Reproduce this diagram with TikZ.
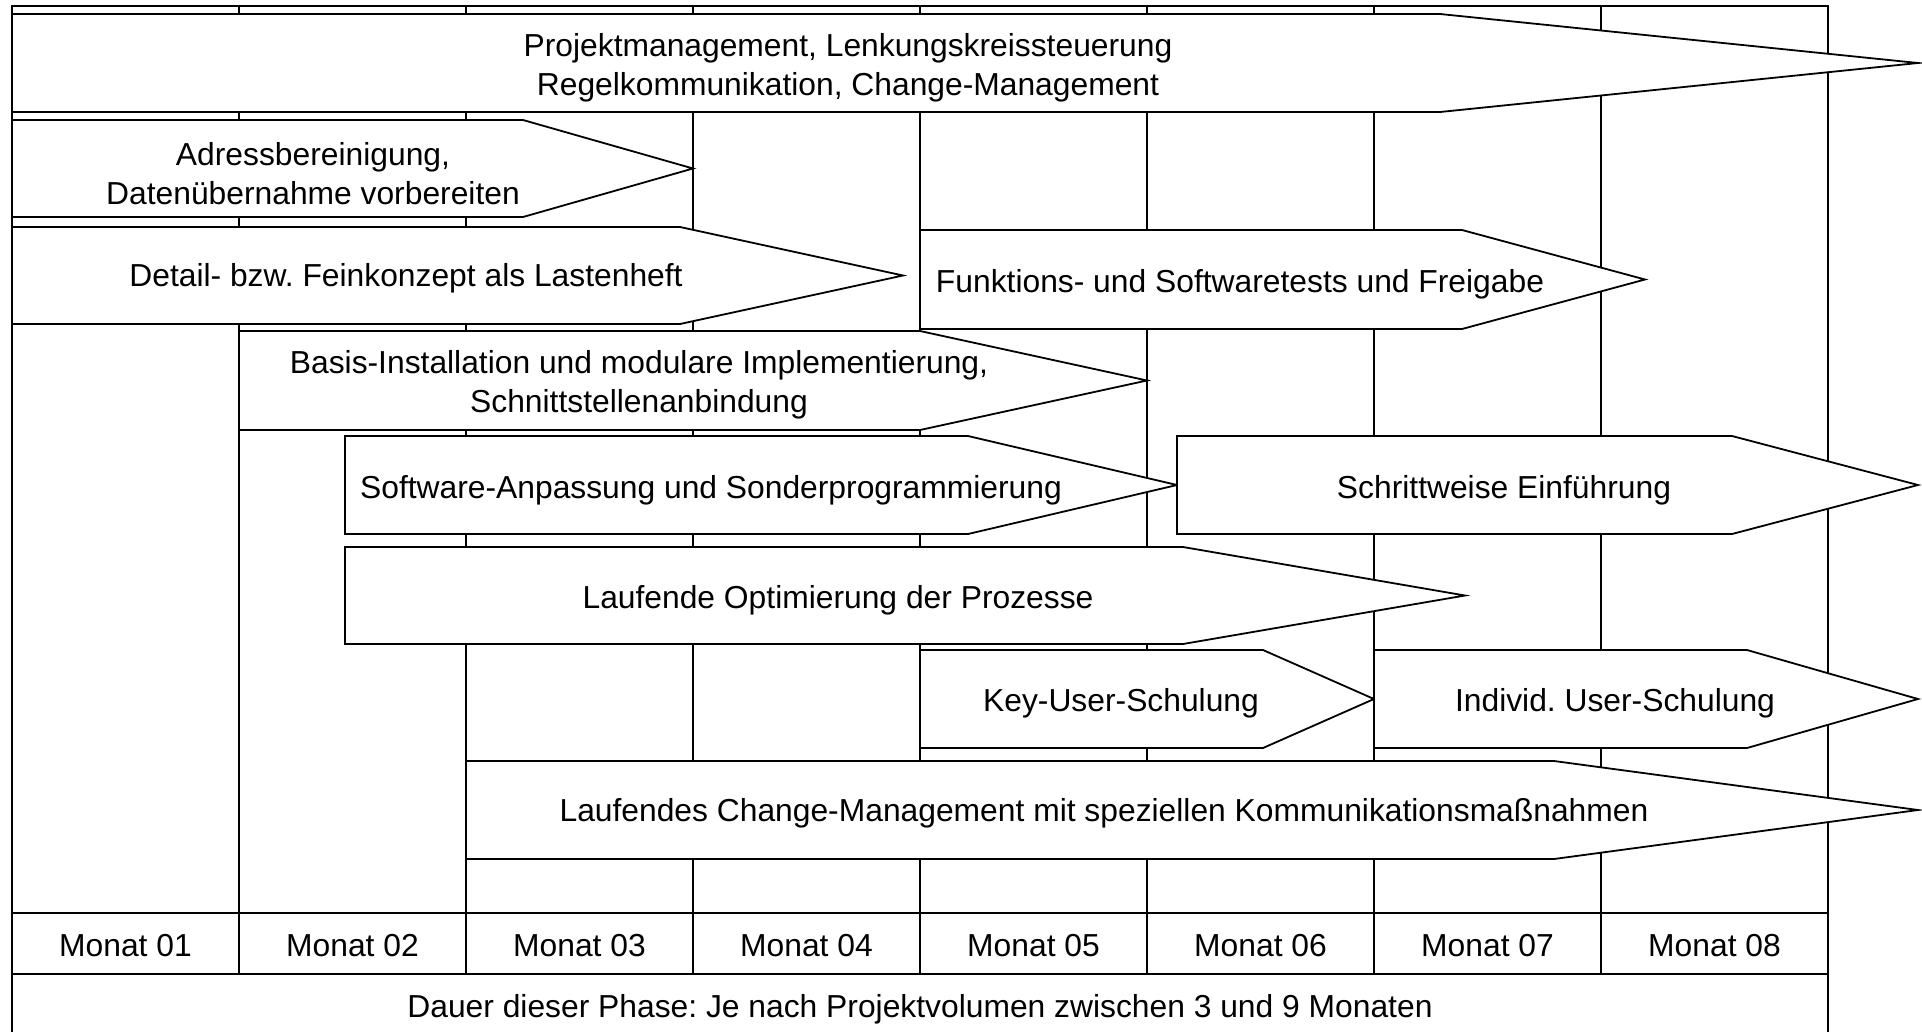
\documentclass[tikz,border=0pt]{standalone}
\usepackage{fontspec}
\setmainfont{Liberation Sans}
\frenchspacing
\newcommand{\garrow}[5]{\draw[bar] (#1,#2) -- (#4,#2) -- (#5,{(#2+#3)/2}) -- (#4,#3) -- (#1,#3) -- cycle;}
\begin{document}
\begin{tikzpicture}[x=1pt,y=-1pt,
  frame/.style={draw=black, line width=1.8pt},
  bar/.style={draw=black, fill=white, line width=1.8pt, line join=miter},
  lbl/.style={font=\fontsize{31.8}{39}\selectfont, inner sep=0pt, text height=22.8pt, text depth=0pt, anchor=center},
  lbltwo/.style={font=\fontsize{31.8}{39}\selectfont, inner sep=0pt, align=center, anchor=center}]
\useasboundingbox (0,0) rectangle (1922,1031);
\fill[white] (0,0) rectangle (1922,1031);
% frame and month grid
\draw[frame] (12,1050) -- (12,6) -- (1828,6) -- (1828,1050);
\foreach \i in {1,...,7} \draw[frame] ({12+227*\i},6) -- ({12+227*\i},974);
\draw[frame] (12,913) -- (1828,913);
\draw[frame] (12,974) -- (1828,974);
% bars
\garrow{12}{14}{112}{1440}{1918}
\garrow{12}{120}{217}{523}{693}
\garrow{12}{227}{324}{680}{903}
\garrow{920}{230}{329}{1462}{1645}
\garrow{239}{331}{430}{920}{1147}
\garrow{345}{436}{534}{968}{1177}
\garrow{1177}{436}{534}{1732}{1918}
\garrow{345}{547}{644}{1183}{1465}
\garrow{920}{650}{748}{1263}{1374}
\garrow{1374}{650}{748}{1747}{1918}
\garrow{466}{761}{859}{1554}{1918}
% labels
\node[lbltwo] (t1) at (848,68) {Projektmanagement, Lenkungskreissteuerung\\Regelkommunikation, Change-Management};
\node[lbltwo] (t2) at (313,174) {Adressbereinigung,\\Datenübernahme vorbereiten};
\node[lbl] (t3) at (406,275) {Detail- bzw. Feinkonzept als Lastenheft};
\node[lbl] (t4) at (1240,281) {Funktions- und Softwaretests und Freigabe};
\node[lbltwo] (t5) at (639,385) {Basis-Installation und modulare Implementierung,\\Schnittstellenanbindung};
\node[lbl] (t6) at (711,487) {Software-Anpassung und Sonderprogrammierung};
\node[lbl] (t7) at (1504,487) {Schrittweise Einführung};
\node[lbl] (t8) at (838,597) {Laufende Optimierung der Prozesse};
\node[lbl] (t9) at (1121,700) {Key-User-Schulung};
\node[lbl] (t10) at (1615,700) {Individ. User-Schulung};
\node[lbl] (t11) at (1104,810) {Laufendes Change-Management mit speziellen Kommunikationsmaßnahmen};
\foreach \i in {1,...,8} \node[lbl] (m\i) at ({12+227*\i-113.5},945) {Monat 0\i};
\node[lbl] (dauer) at (920,1006) {Dauer dieser Phase: Je nach Projektvolumen zwischen 3 und 9 Monaten};
\end{tikzpicture}
\end{document}
